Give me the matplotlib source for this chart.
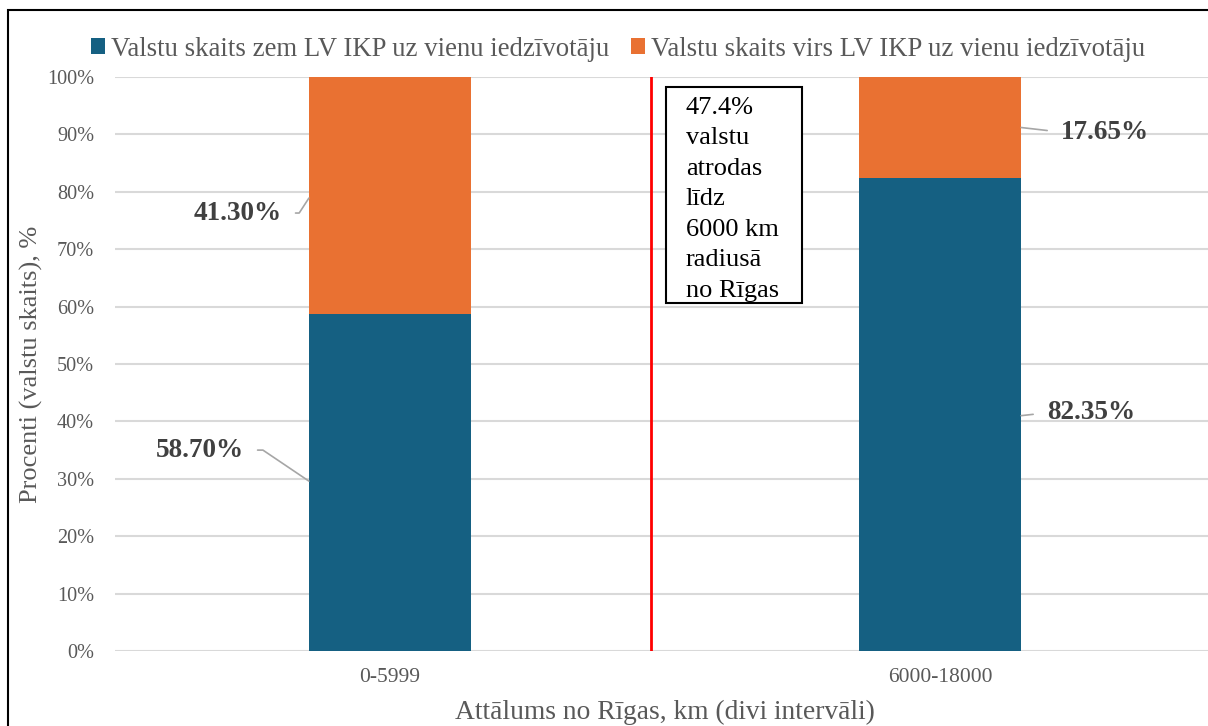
import matplotlib.pyplot as plt
from matplotlib.patches import Rectangle
import numpy as np

plt.rcParams['font.family'] = ['Liberation Serif', 'DejaVu Serif']

categories = ['0-5999', '6000-18000']
below = [58.70, 82.35]
above = [41.30, 17.65]
series_names = ['Valstu skaits zem LV IKP uz vienu iedzīvotāju',
                'Valstu skaits virs LV IKP uz vienu iedzīvotāju']
box_text = '47.4%\nvalstu\natrodas\nlīdz\n6000 km\nradiusā\nno Rīgas'

c_blue = '#156082'
c_orange = '#E97132'
grey = '#595959'

fig = plt.figure(figsize=(12.08, 7.26), dpi=100)
ax = fig.add_axes([115 / 1208, 1 - 651 / 726, 1100 / 1208, 574 / 726])

x = np.arange(len(categories))
w = 0.295
b1 = ax.bar(x, below, w, color=c_blue, label=series_names[0], zorder=2)
b2 = ax.bar(x, above, w, bottom=below, color=c_orange, label=series_names[1], zorder=2)

ax.set_xlim(-0.5, 1.5)
ax.set_ylim(0, 100)
ax.set_yticks(np.arange(0, 101, 10))
ax.set_yticklabels([f'{v}%' for v in range(0, 101, 10)])
ax.set_xticks(x)
ax.set_xticklabels(categories)
ax.tick_params(axis='y', length=0, labelsize=14.6, colors=grey, pad=15)
ax.tick_params(axis='x', length=0, labelsize=15.5, colors=grey, pad=12)
ax.yaxis.grid(True, color='#d9d9d9', linewidth=1.5, zorder=0)
for s in ax.spines.values():
    s.set_visible(False)

ax.set_ylabel('Procenti (valstu skaits), %', fontsize=19, color=grey)
ax.yaxis.set_label_coords(-0.065, 0.5)
ax.set_xlabel('Attālums no Rīgas, km (divi intervāli)', fontsize=19.8, color=grey)
ax.xaxis.set_label_coords(0.5, -0.085)

# red divider line
ax.axvline(0.475, color='#ff0000', linewidth=2, zorder=3)

# note box
ax.add_patch(Rectangle((0.5018, 60.6), 0.2473, 37.7, facecolor='white',
                       edgecolor='black', linewidth=1.5, zorder=4))
ax.text(0.538, 96.6, box_text, fontsize=19, va='top', ha='left',
        linespacing=1.5, zorder=5)

# data labels with leader lines
lab_kw = dict(fontsize=19.5, fontweight='bold', color='#404040', va='center', zorder=5)
lead = dict(arrowstyle='-', color='#a6a6a6', linewidth=1.2, shrinkA=8, shrinkB=0)
left_edge = x[0] - w / 2
right_edge = x[1] + w / 2
ax.annotate(f'{below[0]:.2f}%', xy=(left_edge, 29.6), xytext=(-0.266, 35.0), ha='right',
            arrowprops=dict(lead, relpos=(1, 0.5),
                            connectionstyle='angle,angleA=0,angleB=-34,rad=0'), **lab_kw)
ax.annotate(f'{above[0]:.2f}%', xy=(left_edge, 78.9), xytext=(-0.197, 76.3), ha='right',
            arrowprops=dict(lead, relpos=(1, 0.5),
                            connectionstyle='angle,angleA=0,angleB=57,rad=0'), **lab_kw)
ax.annotate(f'{above[1]:.2f}%', xy=(right_edge, 91.2), xytext=(1.22, 90.4), ha='left',
            arrowprops=dict(lead, relpos=(0, 0.5)), **lab_kw)
ax.annotate(f'{below[1]:.2f}%', xy=(right_edge, 41.0), xytext=(1.1945, 41.5), ha='left',
            arrowprops=dict(lead, relpos=(0, 0.5)), **lab_kw)

fig.legend(handles=[b1, b2], loc='center', bbox_to_anchor=(618 / 1208, 1 - 49 / 726),
           ncol=2, frameon=False, fontsize=19.3, handlelength=0.53, handleheight=0.53,
           handletextpad=0.23, columnspacing=0.8, labelcolor=grey, borderpad=0)

# outer chart border
fig.patches.append(Rectangle((8 / 1208, -0.1), 1.1, 1 - 10 / 726 + 0.1,
                             transform=fig.transFigure, fill=False,
                             edgecolor='black', linewidth=1.5))

fig.savefig('out.png', dpi=100)
